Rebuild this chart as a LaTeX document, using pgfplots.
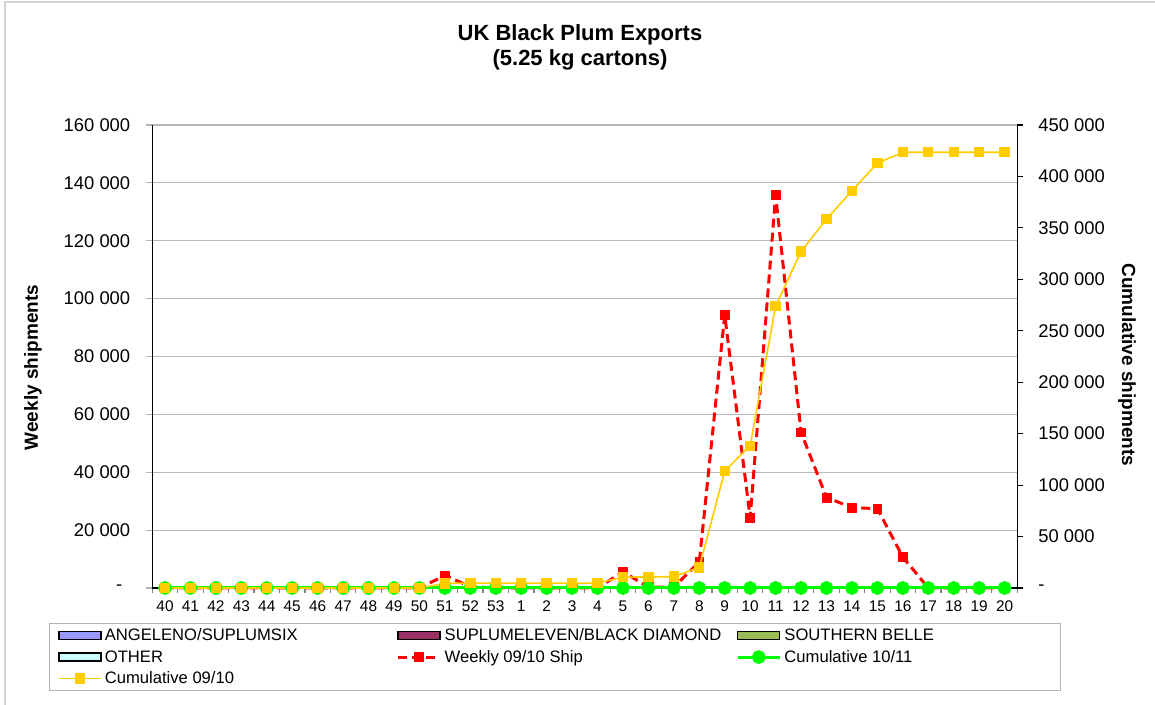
\documentclass[border=0pt]{standalone}
\usepackage{fontspec}
\setmainfont{Liberation Sans}
\usepackage{pgfplots}
\pgfplotsset{compat=1.18}
\definecolor{cRed}{HTML}{FF0000}
\definecolor{cYel}{HTML}{FFCC00}
\definecolor{cGrn}{HTML}{00FF00}
\definecolor{cAng}{HTML}{9999FF}
\definecolor{cSup}{HTML}{993366}
\definecolor{cSou}{HTML}{9BBB59}
\definecolor{cOth}{HTML}{CCFFFF}
\pgfplotsset{
  common/.style={scale only axis, width=432.5pt, height=231.5pt,
    xmin=-0.5, xmax=33.5, ymin=0, clip=false, scaled y ticks=false,
    tick align=outside, major tick length=3pt,
    legend image code/.code={\draw[mark repeat=2,mark phase=2] plot coordinates {(0pt,0pt) (10.5pt,0pt) (21pt,0pt)};}},
  redstyle/.style={cRed, line width=1.5pt, dash pattern=on 4.5pt off 2.5pt, line join=round,
    mark=square*, mark size=2.2pt, mark options={solid, fill=cRed, draw=cRed, line width=0.3pt}},
  areaimg/.style={legend image code/.code={\draw[fill=#1, draw=black, line width=0.7pt] (0pt,-2pt) rectangle (21pt,2pt);}}
}
\newcommand{\lgE}[1]{\makebox[138pt][l]{#1}}
\newcommand{\lgF}[1]{\makebox[133.5pt][l]{#1}}
\begin{document}
\begin{tikzpicture}
\begin{axis}[common, ymax=160000,
  axis x line*=bottom, axis y line*=left,
  x axis line style={-, black, line width=0.6pt},
  y axis line style={-, black, line width=0.6pt},
  xtick={0,...,33},
  xticklabels={40,41,42,43,44,45,46,47,48,49,50,51,52,53,1,2,3,4,5,6,7,8,9,10,11,12,13,14,15,16,17,18,19,20},
  major x tick style={draw=none},
  minor xtick={-0.5,0.5,...,33.5},
  minor x tick style={gray, line width=0.6pt},
  minor tick length=2.5pt,
  xticklabel style={font=\fontsize{7.7}{9}\selectfont},
  ytick={0,20000,40000,60000,80000,100000,120000,140000,160000},
  yticklabels={{-\hspace*{4pt}},20 000,40 000,60 000,80 000,100 000,120 000,140 000,160 000},
  yticklabel style={font=\fontsize{9.2}{11}\selectfont, xshift=-4.5pt},
  y tick style={gray!60, line width=0.6pt},
  ymajorgrids, grid style={gray!55, line width=0.6pt},
]
\addplot[redstyle] coordinates {
(0,0) (1,0) (2,0) (3,0) (4,0) (5,0) (6,0) (7,0) (8,0) (9,0) (10,0)
(11,4300) (12,500) (13,0) (14,0) (15,0) (16,0) (17,0) (18,5600) (19,300) (20,300)
(21,9000) (22,94300) (23,24300) (24,135800) (25,53800) (26,31300) (27,27800) (28,27400)
(29,10700) (30,0) (31,0) (32,0) (33,0)};
\end{axis}
\begin{axis}[common, ymax=450000,
  axis y line*=right, axis x line=none,
  y axis line style={-, black, line width=0.6pt},
  ytick={0,50000,100000,150000,200000,250000,300000,350000,400000,450000},
  yticklabels={-,50 000,100 000,150 000,200 000,250 000,300 000,350 000,400 000,450 000},
  yticklabel style={font=\fontsize{9.2}{11}\selectfont, xshift=4pt},
  y tick style={black, line width=0.6pt},
  legend columns=3, legend cell align=left,
  legend style={at={(-0.11908,-0.07624)}, anchor=north west, draw=gray!60,
    inner xsep=4.2pt, inner ysep=0.5pt, font=\fontsize{8.3}{10}\selectfont,
    nodes={inner xsep=0pt, inner ysep=0.9pt, text height=7pt, text depth=2pt},
    /tikz/every odd column/.append style={column sep=1.6pt},
    /tikz/every even column/.append style={column sep=7.8pt}},
]
\addlegendimage{areaimg=cAng}\addlegendentry{\lgE{ANGELENO/SUPLUMSIX}}
\addlegendimage{areaimg=cSup}\addlegendentry{\lgE{SUPLUMELEVEN/BLACK DIAMOND}}
\addlegendimage{areaimg=cSou}\addlegendentry{\lgF{SOUTHERN BELLE}}
\addlegendimage{areaimg=cOth}\addlegendentry{\lgE{OTHER}}
\addlegendimage{redstyle}\addlegendentry{\lgE{Weekly 09/10 Ship}}
\addplot[cGrn, line width=1.5pt, mark=*, mark size=2.7pt, mark options={fill=cGrn, draw=cGrn}] coordinates {
(0,0) (1,0) (2,0) (3,0) (4,0) (5,0) (6,0) (7,0) (8,0) (9,0) (10,0) (11,0) (12,0) (13,0) (14,0) (15,0) (16,0)
(17,0) (18,0) (19,0) (20,0) (21,0) (22,0) (23,0) (24,0) (25,0) (26,0) (27,0) (28,0) (29,0) (30,0) (31,0) (32,0) (33,0)};
\addlegendentry{\lgF{Cumulative 10/11}}
\addplot[cYel, line width=0.8pt, mark=square*, mark size=2.2pt, mark options={fill=cYel, draw=cYel}] coordinates {
(0,0) (1,0) (2,0) (3,0) (4,0) (5,0) (6,0) (7,0) (8,0) (9,0) (10,0)
(11,4500) (12,4800) (13,4800) (14,4800) (15,4800) (16,4800) (17,4800) (18,10500) (19,10800) (20,11000)
(21,20100) (22,113700) (23,138300) (24,274000) (25,327000) (26,358500) (27,386000) (28,413000)
(29,423500) (30,423500) (31,423500) (32,423500) (33,423500)};
\addlegendentry{\lgE{Cumulative 09/10}}
\end{axis}
\node[font=\bfseries\fontsize{11}{13}\selectfont] at (213.85pt,276.5pt) {UK Black Plum Exports};
\node[font=\bfseries\fontsize{11}{13}\selectfont] at (213.85pt,264pt) {(5.25 kg cartons)};
\node[rotate=90, font=\bfseries\fontsize{9.5}{11}\selectfont] at (-59.65pt,110.25pt) {Weekly shipments};
\node[rotate=-90, font=\bfseries\fontsize{9.5}{11}\selectfont] at (487.35pt,111.5pt) {Cumulative shipments};
\draw[gray!35, line width=1pt] (-73.65pt,-58.5pt) -- (-73.65pt,293pt) -- (501.35pt,293pt);
\pgfresetboundingbox
\path[use as bounding box] (-76.15pt,-58.5pt) rectangle (501.35pt,294pt);
\end{tikzpicture}
\end{document}
